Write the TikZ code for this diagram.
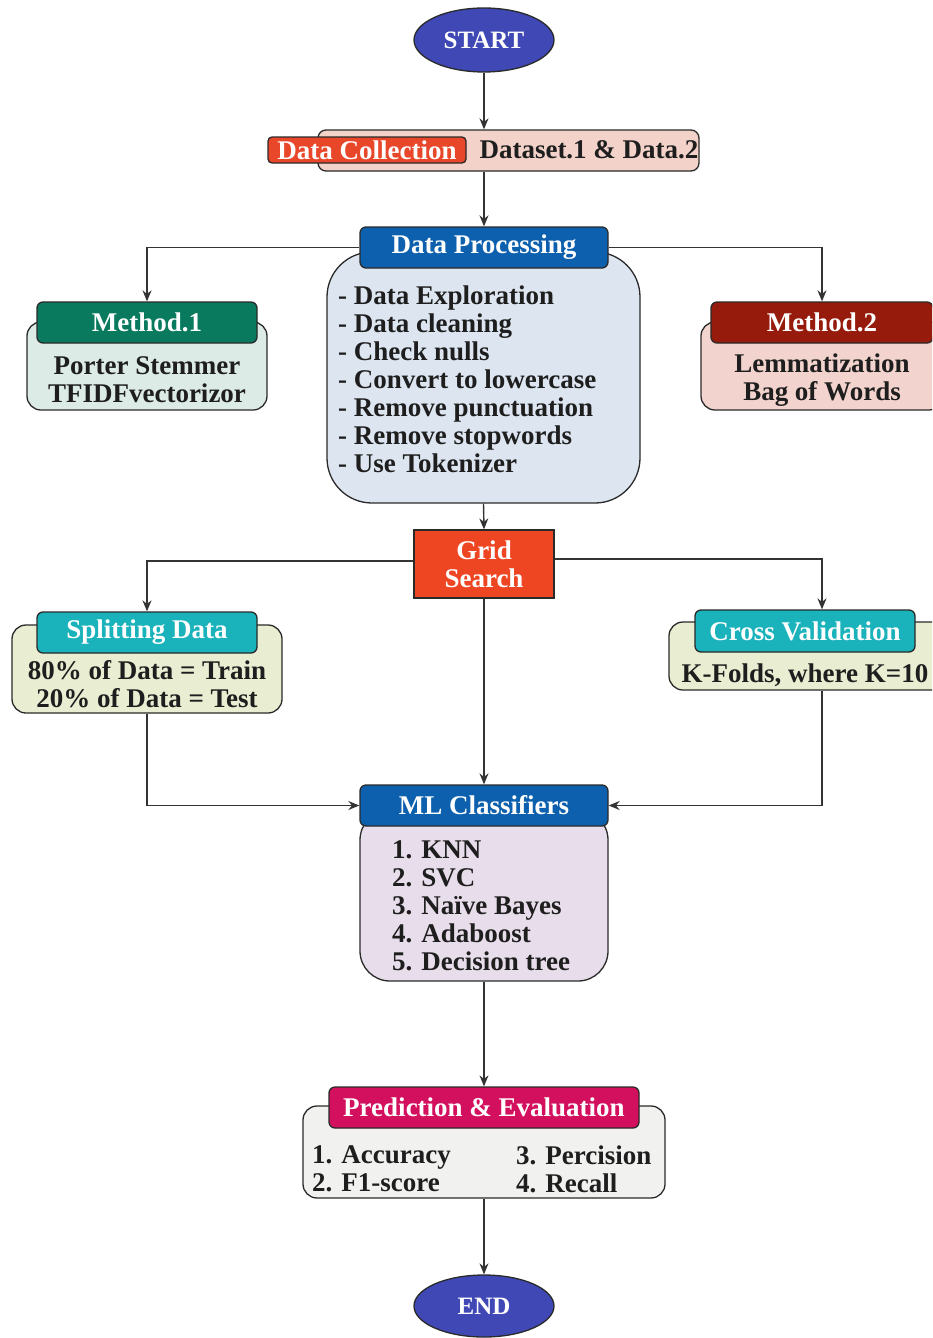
\documentclass[tikz,border=0pt]{standalone}
\usepackage{fontspec}
\setmainfont{Liberation Serif}
\usetikzlibrary{shapes.geometric,arrows.meta}
\definecolor{edgec}{HTML}{2A2A2A}
\definecolor{startc}{HTML}{3F48B5}
\definecolor{dcred}{HTML}{E8472A}
\definecolor{dcpink}{HTML}{F3D2CA}
\definecolor{dphead}{HTML}{0D60AE}
\definecolor{dpbody}{HTML}{DDE6F0}
\definecolor{mahead}{HTML}{0A7A5F}
\definecolor{mabody}{HTML}{DDEBE6}
\definecolor{mbhead}{HTML}{961B0C}
\definecolor{mbbody}{HTML}{F2D3CD}
\definecolor{gridc}{HTML}{EE4523}
\definecolor{tealc}{HTML}{1AB2BB}
\definecolor{ybody}{HTML}{E9EDD1}
\definecolor{mlbody}{HTML}{E8DDEA}
\definecolor{pehead}{HTML}{D3105D}
\definecolor{pebody}{HTML}{F1F1F0}
\definecolor{txtc}{HTML}{1E1E1E}
\definecolor{arrc}{HTML}{333333}
\newcommand\myfont{\fontsize{27}{28}\selectfont\bfseries}
\begin{document}
\begin{tikzpicture}[x=1pt,y=-1pt,
  hdr/.style={draw=edgec, line width=1.3pt, rounded corners=6pt, text=white, font=\myfont, inner sep=0pt},
  body/.style={draw=edgec, line width=1.3pt, inner sep=0pt},
  txt/.style={text=txtc, font=\myfont, align=center, inner sep=0pt},
  termin/.style={ellipse, draw=edgec, line width=1.3pt, fill=startc, text=white, font=\fontsize{25}{26}\selectfont\bfseries, minimum width=140pt, minimum height=64pt, inner sep=0pt},
  arr/.style={draw=arrc, line width=1.4pt, -{Stealth[length=11pt,width=9pt]}}
]
\useasboundingbox (0,0) rectangle (932,1338);
\clip (0,0) rectangle (932,1338);

% START
\node[termin] (start) at (484,40) {START};

% Data collection
\node[body, fill=dcpink, rounded corners=8pt, minimum width=381pt, minimum height=41pt] (dcb) at (508.5,150.5) {};
\node[hdr, fill=dcred, rounded corners=4pt, minimum width=198pt, minimum height=26pt] (dct) at (367,150) {Data Collection};
\node[txt] (dcx) at (589,150) {Dataset.1 \& Data.2};

% Data processing
\node[body, fill=dpbody, rounded corners=45pt, minimum width=313pt, minimum height=251pt] (dpb) at (483.5,377.5) {};
\node[hdr, fill=dphead, minimum width=248pt, minimum height=41pt] (dph) at (484,247.5) {Data Processing};
\node[txt, align=left, anchor=west] (dpx) at (338,379) {- Data Exploration\\- Data cleaning\\- Check nulls\\- Convert to lowercase\\- Remove punctuation\\- Remove stopwords\\- Use Tokenizer};

% Method 1
\node[body, fill=mabody, rounded corners=14pt, minimum width=240pt, minimum height=88pt] (mab) at (147,366) {};
\node[hdr, fill=mahead, minimum width=220pt, minimum height=41pt] (mah) at (147,322.5) {Method.1};
\node[txt] (max) at (147,380) {Porter Stemmer\\TFIDFvectorizor};

% Method 2
\node[body, fill=mbbody, rounded corners=14pt, minimum width=242pt, minimum height=88pt] (mbb) at (822,366) {};
\node[hdr, fill=mbhead, minimum width=222pt, minimum height=41pt] (mbh) at (822,322.5) {Method.2};
\node[txt] (mbx) at (822,380) {Lemmatization\\Bag of Words};

% Grid search
\node[draw=edgec, line width=1.3pt, fill=gridc, text=white, font=\myfont, align=center, inner sep=0pt, minimum width=140pt, minimum height=68pt] (grid) at (484,564) {Grid\\Search};

% Splitting data
\node[body, fill=ybody, rounded corners=14pt, minimum width=270pt, minimum height=88pt] (spb) at (147,669) {};
\node[hdr, fill=tealc, minimum width=220pt, minimum height=41pt] (sph) at (147,632.5) {Splitting Data};
\node[txt] (spx) at (147,684) {80\% of Data = Train\\20\% of Data = Test};

% Cross validation
\node[body, fill=ybody, rounded corners=14pt, minimum width=306pt, minimum height=68pt] (cvb) at (822,656) {};
\node[hdr, fill=tealc, minimum width=220pt, minimum height=42pt] (cvh) at (805,631) {Cross Validation};
\node[txt] (cvx) at (805,675) {K-Folds, where K=10};

% ML classifiers
\node[body, fill=mlbody, rounded corners=30pt, minimum width=248pt, minimum height=171pt] (mlb) at (484,895.5) {};
\node[hdr, fill=dphead, minimum width=248pt, minimum height=41pt] (mlh) at (484,805.5) {ML Classifiers};
\node[txt, align=left, anchor=west] (mlx) at (392,906) {1. KNN\\2. SVC\\3. Naïve Bayes\\4. Adaboost\\5. Decision tree};

% Prediction & evaluation
\node[body, fill=pebody, rounded corners=14pt, minimum width=362pt, minimum height=92pt] (peb) at (484,1152) {};
\node[hdr, fill=pehead, minimum width=310pt, minimum height=41pt] (peh) at (484,1107.5) {Prediction \& Evaluation};
\node[txt, align=left, anchor=west] (pea) at (312,1169) {1. Accuracy\\2. F1-score};
\node[txt, align=left, anchor=west] (peb2) at (516,1169) {3. Percision\\4. Recall};

% END
\node[termin, minimum height=62pt] (end) at (484,1306) {END};

% connectors
\draw[arr] (start.south) -- (start.south |- dcb.north);
\draw[arr] (dph.north |- dcb.south) -- (dph.north);
\draw[arr] (dph.west) -| (mah.north);
\draw[arr] (dph.east) -| (mbh.north);
\draw[arr] (dpb.south) -- (grid.north);
\draw[arr] ([yshift=3pt]grid.west) -| (sph.north);
\draw[arr] ([yshift=5pt]grid.east) -| (cvb.center |- cvh.north);
\draw[arr] (grid.south) -- (mlh.north);
\draw[arr] (spb.south) |- (mlh.west);
\draw[arr] (cvb.south) |- (mlh.east);
\draw[arr] (mlb.south) -- (peh.north);
\draw[arr] (peb.south) -- (end.north);
\end{tikzpicture}
\end{document}
